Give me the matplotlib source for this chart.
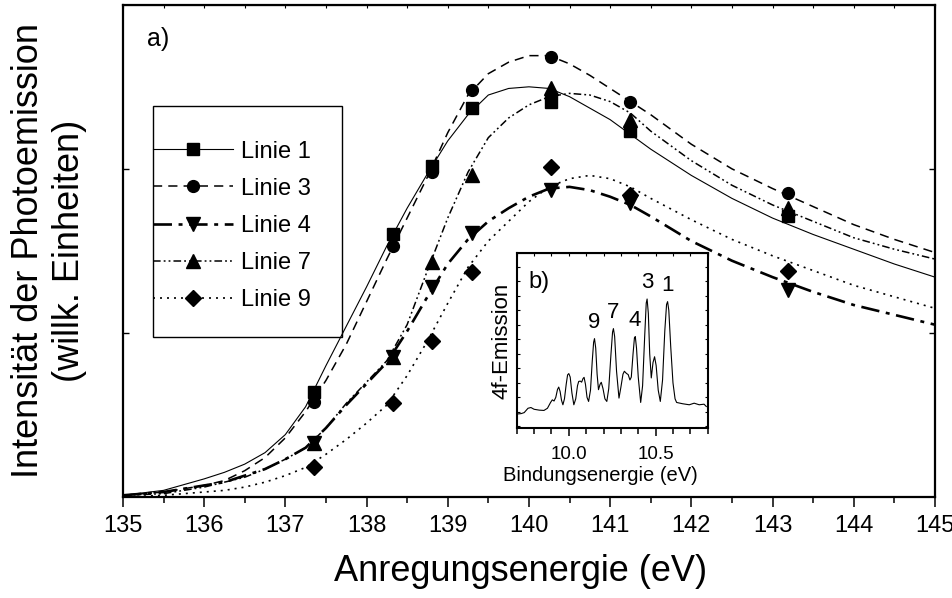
import numpy as np
import matplotlib
matplotlib.use("Agg")
import matplotlib.pyplot as plt
from matplotlib import font_manager
from matplotlib.patches import Rectangle
from matplotlib.ticker import MultipleLocator, FixedLocator, FormatStrFormatter

# narrow sans if it is there, plain Liberation Sans otherwise
names = {f.name for f in font_manager.fontManager.ttflist}
family = "Liberation Sans Narrow" if "Liberation Sans Narrow" in names else "Liberation Sans"
plt.rcParams["font.family"] = [family, "DejaVu Sans"]

# photon energies of the measured points (eV)
meas_x = [137.35, 138.33, 138.81, 139.30, 140.27, 141.24, 143.19]

# measured intensities per line (arb. units)
linie1_pts = [0.64, 1.60, 2.02, 2.37, 2.41, 2.23, 1.71]
linie3_pts = [0.58, 1.53, 1.98, 2.48, 2.68, 2.41, 1.85]
linie4_pts = [0.33, 0.85, 1.28, 1.61, 1.87, 1.79, 1.26]
linie7_pts = [0.33, 0.85, 1.43, 1.96, 2.49, 2.30, 1.76]
linie9_pts = [0.18, 0.57, 0.95, 1.37, 2.01, 1.84, 1.38]

# fitted resonance curves
curve_x = [135, 135.5, 136, 136.25, 136.5, 136.75, 137, 137.25, 137.5, 137.75,
           138, 138.25, 138.5, 138.75, 139, 139.25, 139.5, 139.75, 140, 140.25,
           140.5, 140.75, 141, 141.25, 141.5, 142, 142.5, 143, 143.5, 144,
           144.5, 145]
linie1_fit = [0.01, 0.04, 0.11, 0.15, 0.20, 0.27, 0.38, 0.55, 0.80, 1.04,
              1.28, 1.53, 1.76, 1.97, 2.17, 2.33, 2.45, 2.49, 2.50, 2.49,
              2.44, 2.37, 2.30, 2.21, 2.12, 1.96, 1.82, 1.70, 1.60, 1.51,
              1.42, 1.34]
linie3_fit = [0.01, 0.03, 0.07, 0.10, 0.16, 0.24, 0.36, 0.52, 0.71, 0.93,
              1.19, 1.45, 1.70, 1.95, 2.22, 2.45, 2.58, 2.65, 2.69, 2.69,
              2.64, 2.57, 2.49, 2.41, 2.33, 2.15, 2.00, 1.88, 1.77, 1.66,
              1.57, 1.49]
linie4_fit = [0.01, 0.03, 0.07, 0.09, 0.13, 0.17, 0.23, 0.30, 0.42, 0.56,
              0.69, 0.82, 1.01, 1.22, 1.42, 1.57, 1.68, 1.76, 1.83, 1.88,
              1.89, 1.87, 1.83, 1.78, 1.71, 1.56, 1.44, 1.34, 1.25, 1.17,
              1.11, 1.05]
linie7_fit = [0.01, 0.02, 0.06, 0.09, 0.12, 0.17, 0.23, 0.30, 0.42, 0.57,
              0.70, 0.83, 1.05, 1.38, 1.70, 1.98, 2.19, 2.31, 2.39, 2.44,
              2.46, 2.45, 2.41, 2.34, 2.23, 2.05, 1.90, 1.78, 1.68, 1.58,
              1.51, 1.45]
linie9_fit = [0.00, 0.01, 0.03, 0.04, 0.06, 0.09, 0.13, 0.18, 0.26, 0.35,
              0.45, 0.56, 0.74, 0.95, 1.18, 1.40, 1.56, 1.68, 1.80, 1.89,
              1.94, 1.96, 1.94, 1.89, 1.82, 1.69, 1.57, 1.47, 1.38, 1.29,
              1.22, 1.15]

# 4f photoemission spectrum for the inset
spec_e = [9.707, 9.725, 9.743, 9.765, 9.782, 9.80, 9.83, 9.857, 9.877, 9.895,
          9.905, 9.915, 9.925, 9.935, 9.942, 9.950, 9.958, 9.966, 9.975, 9.985,
          9.993, 10.0, 10.008, 10.018, 10.029, 10.04, 10.05, 10.057, 10.066, 10.074,
          10.082, 10.088, 10.096, 10.105, 10.114, 10.125, 10.135, 10.143, 10.148, 10.155,
          10.163, 10.171, 10.18, 10.187, 10.197, 10.208, 10.219, 10.23, 10.243, 10.252,
          10.257, 10.264, 10.275, 10.289, 10.30, 10.312, 10.32, 10.332, 10.342, 10.352,
          10.36, 10.37, 10.378, 10.383, 10.39, 10.40, 10.414, 10.425, 10.437, 10.446,
          10.451, 10.458, 10.466, 10.475, 10.485, 10.494, 10.503, 10.515, 10.527, 10.54,
          10.553, 10.563, 10.569, 10.576, 10.587, 10.60, 10.612, 10.621, 10.656, 10.694,
          10.722, 10.751, 10.779, 10.792]
spec_i = [-0.14, -0.12, -0.05, 0.25, 0.30, 0.18, 0.12, 0.10, 0.25, 0.65,
          0.83, 0.75, 1.00, 1.55, 1.71, 1.40, 0.80, 0.49, 0.90, 1.90,
          2.55, 2.64, 2.40, 1.30, 0.49, 0.90, 1.80, 2.10, 2.12, 2.05,
          2.30, 2.38, 1.90, 1.00, 0.72, 1.50, 3.50, 4.80, 5.05, 4.40,
          2.60, 1.53, 1.90, 2.04, 1.60, 0.90, 0.72, 1.60, 4.00, 5.50,
          5.74, 5.20, 2.80, 0.95, 1.70, 2.60, 2.80, 2.65, 2.57, 2.20,
          2.40, 4.00, 5.10, 5.19, 4.40, 2.40, 0.65, 1.80, 5.20, 7.50,
          7.78, 6.80, 4.00, 2.34, 3.40, 3.80, 3.20, 1.50, 0.72, 2.20,
          5.60, 7.40, 7.60, 7.00, 4.50, 2.00, 0.90, 0.65, 0.56, 0.49,
          0.60, 0.49, 0.53, 0.37]
peak_labels = ["9", "7", "4", "3", "1"]
peak_pos = [10.147, 10.257, 10.38, 10.451, 10.57]
peak_top = [5.05, 5.74, 5.19, 7.78, 7.60]

fig = plt.figure(figsize=(9.53, 5.98), dpi=100)
ax = fig.add_axes([0.129, 0.169, 0.852, 0.823])

series = [
    ("Linie 1", linie1_pts, linie1_fit, "s", 8, dict(ls="-", lw=0.8)),
    ("Linie 3", linie3_pts, linie3_fit, "o", 8.5, dict(ls=(0, (6, 4)), lw=1.1)),
    ("Linie 4", linie4_pts, linie4_fit, "v", 9.5, dict(ls=(0, (7, 2.5, 1.5, 2.5)), lw=1.9)),
    ("Linie 7", linie7_pts, linie7_fit, "^", 9.5, dict(ls=(0, (5, 2, 1.2, 2, 1.2, 2)), lw=1.1)),
    ("Linie 9", linie9_pts, linie9_fit, "D", 8.5, dict(ls=(0, (1.2, 3)), lw=1.2)),
]
for label, pts, fit, mk, ms, style in series:
    ax.plot(curve_x, fit, color="black", **style)
    ax.plot(meas_x, pts, mk, color="black", ms=ms, ls="none")
    # proxy handle so the legend shows line and marker together
    ax.plot([], [], color="black", marker=mk, ms=ms, label=label, **style)

ax.set_xlim(135, 145)
ax.set_ylim(0, 3)
ax.xaxis.set_major_locator(MultipleLocator(1))
ax.xaxis.set_minor_locator(MultipleLocator(0.5))
ax.yaxis.set_major_locator(FixedLocator([1, 2]))
ax.tick_params(axis="x", which="major", direction="out", length=7, width=1.1,
               labelsize=17, pad=6)
ax.tick_params(axis="x", which="minor", direction="out", length=4, width=1.1)
ax.tick_params(axis="y", which="major", direction="in", length=4, width=1,
               left=True, right=True, labelleft=False)
for sp in ax.spines.values():
    sp.set_linewidth(1.6)

top = ax.secondary_xaxis("top")
top.xaxis.set_major_locator(MultipleLocator(0.5))
top.tick_params(direction="in", length=2.5, width=0.8, labeltop=False)

ax.set_xlabel("Anregungsenergie (eV)", fontsize=26, labelpad=12)
ax.xaxis.set_label_coords(0.49, -0.115)
ax.set_ylabel("Intensität der Photoemission\n(willk. Einheiten)", fontsize=26,
              labelpad=26, linespacing=1.2)
ax.text(0.03, 0.955, "a)", transform=ax.transAxes, fontsize=18, va="top")

# legend text without frame; the box is drawn separately so it can hug the handles
leg = ax.legend(loc="upper left", bbox_to_anchor=(0.0369, 0.724), borderaxespad=0,
                borderpad=0, fontsize=17, handlelength=3.4, handletextpad=0.35,
                labelspacing=0.64, frameon=False)
ax.add_patch(Rectangle((0.0369, 0.325), 0.2328, 0.4697, transform=ax.transAxes,
                       fill=False, edgecolor="black", lw=1.0, zorder=4))

# inset with the photoemission spectrum
ins = fig.add_axes([0.5422, 0.2843, 0.2004, 0.2926])
ins.plot(spec_e, spec_i, color="black", lw=0.8)
ins.set_xlim(9.7, 10.8)
ins.set_ylim(-1.11, 10.95)
ins.xaxis.set_major_locator(FixedLocator([10.0, 10.5]))
ins.xaxis.set_minor_locator(MultipleLocator(0.1))
ins.yaxis.set_major_locator(MultipleLocator(1))
ins.xaxis.set_major_formatter(FormatStrFormatter("%.1f"))
ins.tick_params(axis="x", which="major", direction="out", length=6, width=1.1,
                labelsize=13.5, pad=7)
ins.tick_params(axis="x", which="minor", direction="out", length=4, width=1.1)
ins.tick_params(axis="y", which="major", direction="in", length=2.5, width=0.8,
                left=True, right=True, labelleft=False)
for sp in ins.spines.values():
    sp.set_linewidth(1.5)
ins_top = ins.secondary_xaxis("top")
ins_top.xaxis.set_major_locator(MultipleLocator(0.1))
ins_top.tick_params(direction="in", length=2.5, width=0.8, labeltop=False)
ins.set_xlabel("Bindungsenergie (eV)", fontsize=14.5)
ins.xaxis.set_label_coords(0.44, -0.215)
ins.set_ylabel("4f-Emission", fontsize=16, labelpad=3)
ins.text(0.06, 0.8, "b)", transform=ins.transAxes, fontsize=17)
for lab, px, py in zip(peak_labels, peak_pos, peak_top):
    ins.annotate(lab, (px, py), xytext=(0, 4), textcoords="offset points",
                 ha="center", va="bottom", fontsize=16)

fig.savefig("out.png", dpi=100)
